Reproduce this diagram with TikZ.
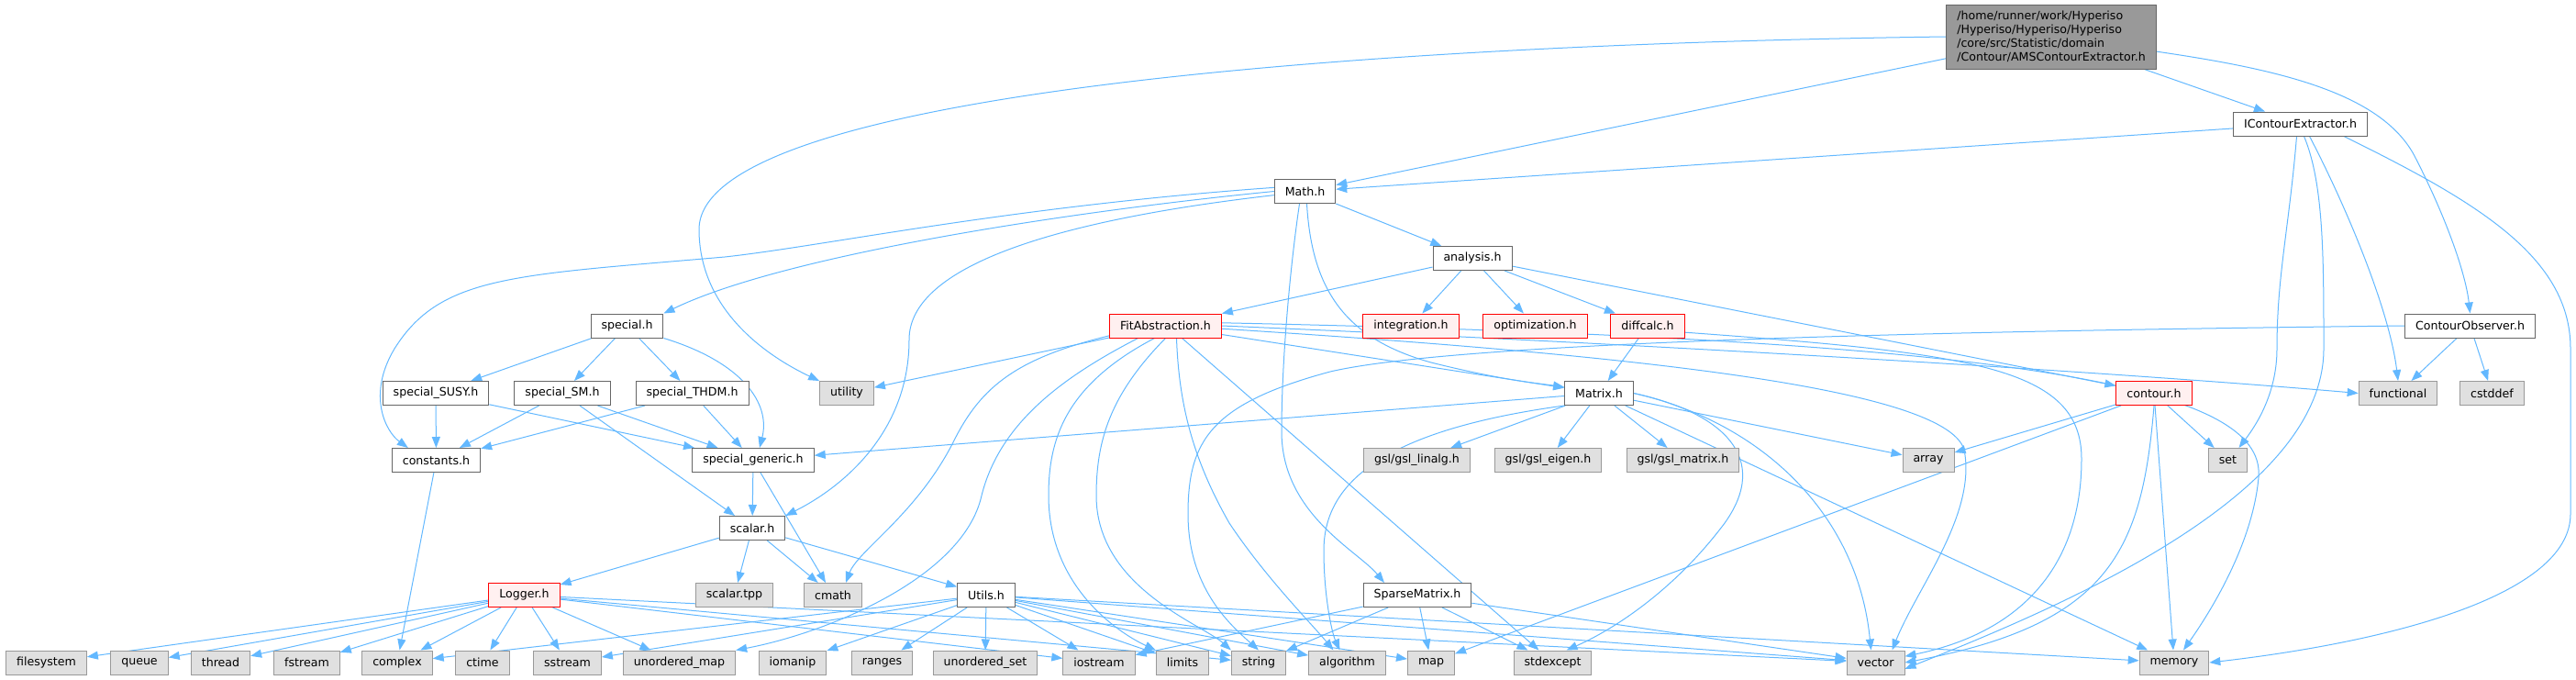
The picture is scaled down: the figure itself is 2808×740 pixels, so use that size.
\documentclass[tikz,border=0pt]{standalone}
\usepackage{fontspec}
\setmainfont{DejaVu Sans}
\usetikzlibrary{arrows.meta}
\pgfdeclarelayer{bg}
\pgfsetlayers{bg,main}
\definecolor{edgec}{HTML}{63B8FF}
\definecolor{nodeb}{HTML}{666666}
\definecolor{extf}{HTML}{E0E0E0}
\definecolor{extb}{HTML}{999999}
\definecolor{redf}{HTML}{FFF0F0}
\definecolor{topf}{HTML}{999999}
\begin{document}
\begin{tikzpicture}[x=1pt,y=-1pt,
  font=\fontsize{12.6}{15}\selectfont,
  base/.style={rectangle, minimum height=26pt, inner xsep=11.5pt, inner ysep=0pt, line width=1pt},
  nrm/.style={base, draw=nodeb, fill=white},
  ext/.style={base, draw=extb, fill=extf},
  redn/.style={base, draw=red, fill=redf},
  topn/.style={base, draw=nodeb, fill=topf, align=left, minimum height=70pt, inner ysep=4pt},
  e/.style={draw=edgec, line width=1pt, -{Triangle[length=12pt,width=9pt]}}]
\useasboundingbox (0,0) rectangle (2808,740);

% nodes
\node[topn] (ams) at (2236,40) {/home/runner/work/Hyperiso\\/Hyperiso/Hyperiso/Hyperiso\\/core/src/Statistic/domain\\/Contour/AMSContourExtractor.h};
\node[nrm] (icont) at (2507.5,135) {IContourExtractor.h};
\node[nrm] (math) at (1422.5,208.5) {Math.h};
\node[nrm] (analysis) at (1605,281.5) {analysis.h};
\node[nrm] (special) at (683.5,355) {special.h};
\node[redn] (fit) at (1270.5,355) {FitAbstraction.h};
\node[redn] (integ) at (1538,355) {integration.h};
\node[redn] (optim) at (1673.5,355) {optimization.h};
\node[redn] (diffcalc) at (1796,355) {diffcalc.h};
\node[nrm] (contobs) at (2692.5,355) {ContourObserver.h};
\node[nrm] (susy) at (475,428.5) {special\_SUSY.h};
\node[nrm] (sm) at (613,428.5) {special\_SM.h};
\node[nrm] (thdm) at (754.5,428.5) {special\_THDM.h};
\node[ext] (utility) at (923,428.5) {utility};
\node[nrm] (matrix) at (1743,428.5) {Matrix.h};
\node[redn] (contour) at (2348,428.5) {contour.h};
\node[ext] (functional) at (2614,428.5) {functional};
\node[ext] (cstddef) at (2716.5,428.5) {cstddef};
\node[nrm] (constants) at (475.5,501.5) {constants.h};
\node[nrm] (generic) at (821,501.5) {special\_generic.h};
\node[ext] (linalg) at (1544.5,501.5) {gsl/gsl\_linalg.h};
\node[ext] (eigen) at (1687.5,501.5) {gsl/gsl\_eigen.h};
\node[ext] (gslmatrix) at (1834.5,501.5) {gsl/gsl\_matrix.h};
\node[ext] (array) at (2102,501.5) {array};
\node[ext] (set) at (2428.5,501.5) {set};
\node[nrm] (scalar) at (820,575.5) {scalar.h};
\node[redn] (logger) at (571.5,648.5) {Logger.h};
\node[ext] (tpp) at (800.5,648.5) {scalar.tpp};
\node[ext] (cmath) at (908,648.5) {cmath};
\node[nrm] (utils) at (1075,648.5) {Utils.h};
\node[nrm] (sparse) at (1545,648.5) {SparseMatrix.h};
\node[ext] (filesystem) at (50.5,722) {filesystem};
\node[ext] (queue) at (152,722) {queue};
\node[ext] (thread) at (240.5,722) {thread};
\node[ext] (fstream) at (334.5,722) {fstream};
\node[ext] (complex) at (433,722) {complex};
\node[ext] (ctime) at (526,722) {ctime};
\node[ext] (sstream) at (618.5,722) {sstream};
\node[ext] (umap) at (740.5,722) {unordered\_map};
\node[ext] (iomanip) at (864,722) {iomanip};
\node[ext] (ranges) at (961.5,722) {ranges};
\node[ext] (uset) at (1074,722) {unordered\_set};
\node[ext] (iostream) at (1198,722) {iostream};
\node[ext] (limits) at (1289,722) {limits};
\node[ext] (string) at (1372,722) {string};
\node[ext] (algorithm) at (1468.5,722) {algorithm};
\node[ext] (map) at (1560,722) {map};
\node[ext] (stdexcept) at (1692.5,722) {stdexcept};
\node[ext] (vector) at (2044.5,722) {vector};
\node[ext] (memory) at (2370,722) {memory};

\begin{pgfonlayer}{bg}
% AMSContourExtractor.h
\draw[e] (ams.west) .. controls (1500,48) and (762,100) .. (762,250) .. controls (762,340) and (840,390) .. (utility.north west);
\draw[e] (ams) -- (math);
\draw[e] (ams) -- (icont);
\draw[e] (ams.-8) .. controls (2480,75) and (2595,100) .. (2632,170) .. controls (2668,240) and (2688,300) .. (contobs.north);
% IContourExtractor.h
\draw[e] (icont) -- (math);
\draw[e] ([xshift=-4pt]icont.south) .. controls (2495,250) and (2482,300) .. (2482,380) .. controls (2482,430) and (2458,465) .. ([xshift=12pt]set.north);
\draw[e] ([xshift=4pt]icont.south) .. controls (2533,200) and (2533,280) .. (2533,380) .. controls (2533,540) and (2250,660) .. (vector.-12);
\draw[e] ([xshift=10pt]icont.south) .. controls (2560,230) and (2605,340) .. (functional.north);
\draw[e] ([xshift=-26pt]icont.south east) .. controls (2700,220) and (2802,280) .. (2802,380) -- (2802,560) .. controls (2802,650) and (2600,700) .. (memory.east);
% Math.h
\draw[e] (math) -- (analysis);
\draw[e] (math.180) .. controls (1150,232) and (850,280) .. (special.north east);
\draw[e] (math.173) .. controls (1100,225) and (900,268) .. (790,280) .. controls (560,300) and (480,300) .. (430,380) .. controls (400,430) and (420,470) .. ([xshift=18pt]constants.north west);
\draw[e] (math.187) .. controls (1150,240) and (991,290) .. (991,370) .. controls (991,470) and (920,530) .. (scalar.north east);
\draw[e] ([xshift=-6pt]math.south) .. controls (1405,300) and (1397,400) .. (1397,470) .. controls (1397,560) and (1480,600) .. ([xshift=-36pt]sparse.north);
\draw[e] ([xshift=2pt]math.south) .. controls (1430,320) and (1470,370) .. (1560,395) .. controls (1640,415) and (1680,418) .. (matrix.170);
% analysis.h
\draw[e] (analysis) -- (fit);
\draw[e] (analysis) -- (integ);
\draw[e] (analysis) -- (optim);
\draw[e] (analysis) -- (diffcalc);
\draw[e] (analysis) -- (contour);
% special
\draw[e] (special) -- (susy);
\draw[e] (special) -- (sm);
\draw[e] (special) -- (thdm);
\draw[e] (special.south east) .. controls (810,395) and (840,440) .. ([xshift=7pt]generic.north);
\draw[e] (susy) -- (constants);
\draw[e] (susy) -- (generic);
\draw[e] (sm) -- (constants);
\draw[e] (sm) -- (generic);
\draw[e] (sm) -- (scalar);
\draw[e] (thdm) -- (constants);
\draw[e] (thdm) -- (generic);
\draw[e] (constants) -- (complex);
\draw[e] (generic) -- (scalar);
\draw[e] (generic) -- (cmath);
\draw[e] (scalar) -- (logger);
\draw[e] (scalar) -- (tpp);
\draw[e] (scalar) -- (cmath);
\draw[e] (scalar) -- (utils);
% FitAbstraction.h
\draw[e] (fit) -- (utility);
\draw[e] (fit) -- (matrix);
\draw[e] (fit.190) .. controls (1110,390) and (1070,420) .. (1040,480) .. controls (1000,560) and (935,600) .. ([xshift=14pt]cmath.north);
\draw[e] ([xshift=-30pt]fit.south) .. controls (1160,410) and (1090,460) .. (1070,540) .. controls (1050,630) and (900,690) .. (umap.north east);
\draw[e] ([xshift=-12pt]fit.south) .. controls (1160,420) and (1143,480) .. (1143,540) .. controls (1143,640) and (1220,690) .. (limits.north west);
\draw[e] (fit.south) .. controls (1210,430) and (1195,480) .. (1195,540) .. controls (1195,640) and (1310,680) .. (string.north west);
\draw[e] ([xshift=12pt]fit.south) .. controls (1285,440) and (1300,500) .. (1340,570) .. controls (1380,630) and (1430,680) .. ([xshift=-15pt]algorithm.north);
\draw[e] ([xshift=18pt]fit.south) -- ([xshift=-15pt]stdexcept.north);
\draw[e] (fit.east) .. controls (1800,375) and (2300,405) .. (functional.west);
\draw[e] (fit.3) .. controls (2200,370) and (2470,420) .. (2462,520) .. controls (2455,600) and (2400,680) .. ([xshift=10pt]memory.north);
\draw[e] (fit.-3) .. controls (1750,385) and (2120,420) .. (2141,490) .. controls (2155,560) and (2090,640) .. ([xshift=18pt]vector.north);
% diffcalc.h
\draw[e] (diffcalc) -- (matrix);
\draw[e] (diffcalc.-10) .. controls (2150,385) and (2269,400) .. (2269,500) .. controls (2269,620) and (2200,690) .. (vector.12);
% Matrix.h
\draw[e] (matrix) -- (generic);
\draw[e] (matrix) -- (linalg);
\draw[e] (matrix) -- (eigen);
\draw[e] (matrix) -- (gslmatrix);
\draw[e] (matrix) -- (array);
\draw[e] (matrix) -- (memory);
\draw[e] (matrix.south west) .. controls (1500,470) and (1443,530) .. (1443,600) .. controls (1443,650) and (1452,690) .. ([xshift=-8pt]algorithm.north);
\draw[e] (matrix.east) .. controls (1880,450) and (1930,500) .. (1880,570) .. controls (1820,650) and (1750,690) .. ([xshift=15pt]stdexcept.north);
\draw[e] (matrix.east) .. controls (1920,460) and (2025,560) .. ([xshift=-5pt]vector.north);
% contour.h
\draw[e] (contour) -- (array);
\draw[e] (contour) -- (map);
\draw[e] (contour) -- (set);
\draw[e] (contour) -- (memory);
\draw[e] (contour.south) .. controls (2335,600) and (2300,680) .. (vector.east);
% ContourObserver.h
\draw[e] (contobs) -- (functional);
\draw[e] (contobs) -- (cstddef);
\draw[e] (contobs.west) .. controls (2200,360) and (1600,370) .. (1450,405) .. controls (1320,440) and (1295,480) .. (1295,560) .. controls (1295,640) and (1340,680) .. (string.north);
% SparseMatrix.h
\draw[e] (sparse) -- (iostream);
\draw[e] (sparse) -- (string);
\draw[e] (sparse) -- (map);
\draw[e] (sparse) -- (stdexcept);
\draw[e] (sparse) -- (vector);
% Utils.h
\draw[e] (utils) -- (complex);
\draw[e] (utils) -- (sstream);
\draw[e] (utils) -- (iomanip);
\draw[e] (utils) -- (ranges);
\draw[e] (utils) -- (uset);
\draw[e] (utils) -- (iostream);
\draw[e] (utils) -- (limits);
\draw[e] (utils) -- (string);
\draw[e] (utils) -- (algorithm);
\draw[e] (utils) -- (map);
\draw[e] (utils) -- (vector);
\draw[e] (utils) -- (memory);
% Logger.h
\draw[e] (logger) -- (filesystem);
\draw[e] (logger) -- (queue);
\draw[e] (logger) -- (thread);
\draw[e] (logger) -- (fstream);
\draw[e] (logger) -- (complex);
\draw[e] (logger) -- (ctime);
\draw[e] (logger) -- (sstream);
\draw[e] (logger) -- (umap);
\draw[e] (logger) -- (iostream);
\draw[e] (logger) -- (string);
\draw[e] (logger) -- (vector);
\end{pgfonlayer}
\end{tikzpicture}
\end{document}
